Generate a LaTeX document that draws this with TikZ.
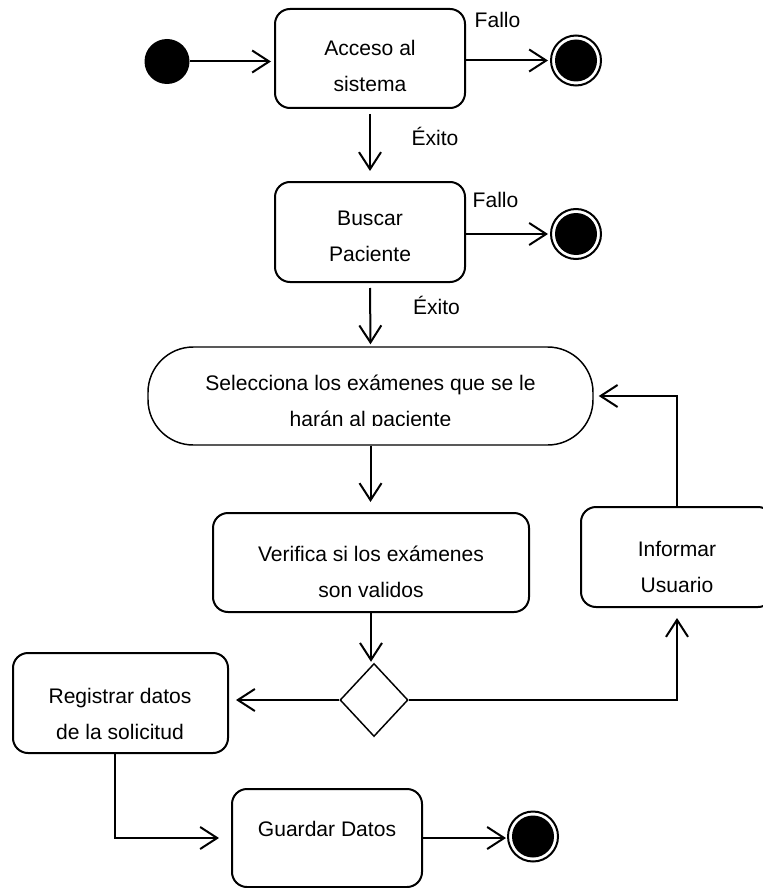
\documentclass[tikz,border=0pt]{standalone}
\usepackage{fontspec}
\setmainfont{Liberation Sans}
\usetikzlibrary{arrows.meta,shapes.geometric}
\begin{document}
\begin{tikzpicture}[x=0.75pt,y=-0.75pt,
  lbl/.style={font=\fontsize{15.8pt}{27pt}\selectfont, align=center, inner sep=0pt},
  actbox/.style={draw, line width=1.5pt, rounded corners=11.25pt, inner sep=0pt},
  flow/.style={line width=1.5pt, -{Straight Barb[length=12.75pt, width=16.5pt]}},
  startnode/.style={circle, fill=black, inner sep=0pt, minimum size=33.75pt},
  endnode/.style={circle, draw, line width=1.5pt, inner sep=0pt, minimum size=37.5pt,
    path picture={\fill (path picture bounding box.center) circle (15.75pt);}},
  decision/.style={diamond, draw, line width=1.1pt, inner sep=0pt,
    minimum width=51pt, minimum height=54.75pt}
]
\clip (0,0) rectangle (763,888);

% initial and final nodes
\node[startnode] (s) at (167,61.5) {};
\node[endnode] (e1) at (576,60.5) {};
\node[endnode] (e2) at (576,234) {};
\node[endnode] (e3) at (533,836.5) {};

% activities
\node[actbox, minimum width=142.5pt, minimum height=74.25pt] (b1) at (370,58.5) {};
\node[lbl] (t1) at (370,66) {Acceso al\\sistema};

\node[actbox, minimum width=142.5pt, minimum height=75pt] (b2) at (370,232) {};
\node[lbl] (t2) at (370,236) {Buscar\\Paciente};

\node[draw, line width=1.1pt, rounded corners=34pt, inner sep=0pt,
      minimum width=333.75pt, minimum height=73.5pt] (b3) at (370.5,396) {};
\begin{scope}
  \clip (148,347) rectangle (593,425);
  \node[lbl] (t3) at (370.5,402.5) {Selecciona los exámenes que se le\\harán al paciente};
\end{scope}

\node[actbox, minimum width=237pt, minimum height=74.25pt] (b4) at (371,562.5) {};
\node[lbl] (t4) at (371,572) {Verifica si los exámenes\\son validos};

\node[actbox, minimum width=144pt, minimum height=75pt] (b5) at (677,557) {};
\node[lbl] (t5) at (677,566.5) {Informar\\Usuario};

\node[decision] (d) at (374,700) {};

\node[actbox, minimum width=161.25pt, minimum height=75pt] (b6) at (120.5,703) {};
\node[lbl] (t6) at (120,713.5) {Registrar datos\\de la solicitud};

\node[actbox, minimum width=142.5pt, minimum height=73.5pt] (b7) at (327,838) {};
\node[lbl] (t7) at (327,829) {Guardar Datos};

% guard labels
\node[lbl] (f1) at (497.5,20) {Fallo};
\node[lbl] (x1) at (435,136.5) {Éxito};
\node[lbl] (f2) at (495.5,199.5) {Fallo};
\node[lbl] (x2) at (436.5,305.5) {Éxito};

% transitions
\draw[flow, shorten >=2.25pt] (s.east) -- (s.east -| b1.west);
\draw[flow, shorten >=1.5pt] (b1.east |- e1) -- (e1.west);
\draw[flow, shorten <=3.75pt, shorten >=7.5pt] (b1.south) -- (b2.north);
\draw[flow, shorten >=1.5pt] (b2.east |- e2) -- (e2.west);
\draw[flow, shorten <=3.75pt, shorten >=1.5pt] (b2.south) -- (b3.north);
\draw[flow, shorten >=7.5pt] (b3.south) -- (b3.south |- b4.north);
\draw[flow, shorten >=0.75pt] (b4.south) -- (b4.south |- d.north);
\draw[flow, shorten >=5.25pt] (d.west) -- (d.west -| b6.east);
\draw[flow, shorten >=7.5pt] (d.east) -| (b5.south);
\draw[flow, shorten >=3.75pt] (b5.north) |- (b3.east);
\coordinate (r6) at ([xshift=-4pt]b6.south);
\draw[flow, shorten >=9pt] (r6) |- (b7.west);
\draw[flow, shorten >=0.75pt] (b7.east) -- (b7.east -| e3.west);
\end{tikzpicture}
\end{document}
